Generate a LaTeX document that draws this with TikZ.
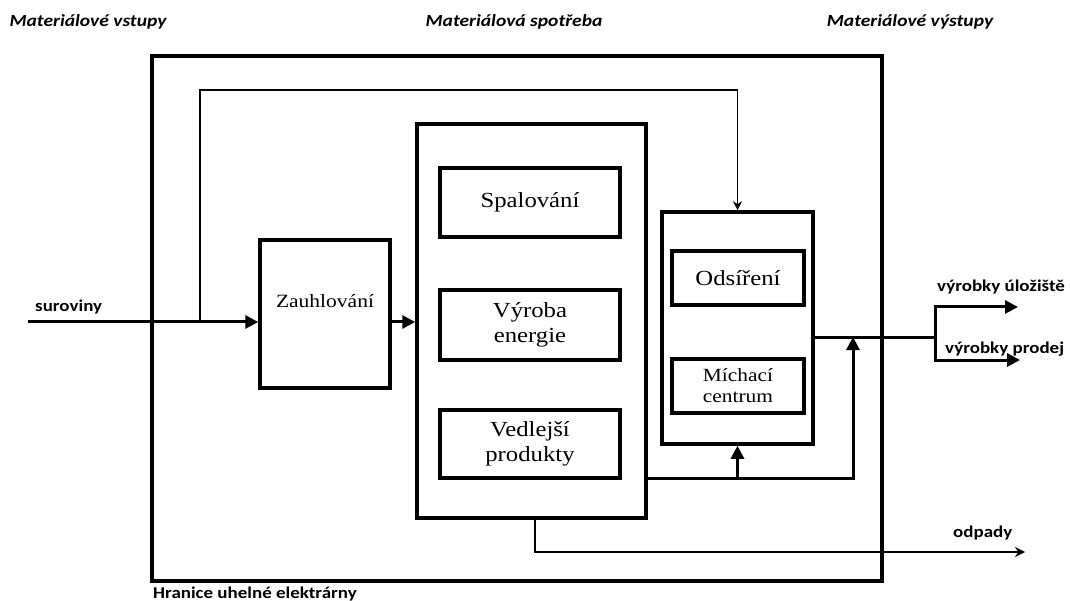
\documentclass[tikz,border=0pt]{standalone}
\usepackage{fontspec}
\setmainfont{Liberation Serif}[FakeStretch=1.15]
\newfontfamily\popisfont{Carlito}[FakeStretch=1.15]
\usetikzlibrary{arrows.meta,calc}

\begin{document}
\begin{tikzpicture}[x=1pt,y=-1pt,
  box/.style={draw,rectangle,line width=3.5pt,inner sep=0pt,align=center},
  blok/.style={font=\fontsize{21.5}{25}\selectfont},
  maly/.style={font=\fontsize{18.6}{21}\selectfont},
  popis/.style={font=\popisfont\fontsize{16.5}{19}\selectfont\bfseries,anchor=base west,inner sep=0pt},
  nadpis/.style={font=\popisfont\fontsize{17}{20}\selectfont\bfseries\itshape,anchor=base,inner sep=0pt},
  tok/.style={line width=3pt,-{Triangle[length=13pt,width=13pt]}},
  tenka/.style={line width=1.5pt,-{Stealth[length=10pt,width=10pt]}}]

\useasboundingbox (0,0) rectangle (1070,601);

% Nadpisy
\node[nadpis] (vstupy) at (88,27) {Materiálové vstupy};
\node[nadpis] (spotr-txt) at (514,27) {Materiálová spotřeba};
\node[nadpis] (vystupy) at (910,27) {Materiálové výstupy};

% Hranice elektrarny
\node[draw,rectangle,line width=4pt,minimum width=730pt,minimum height=525pt,inner sep=0pt] (hranice) at (517,318.5) {};
\node[popis] (hranice-txt) at (153,598) {Hranice uhelné elektrárny};

% Zauhlovani
\node[box,font=\fontsize{18.7}{22}\selectfont,minimum width=130pt,minimum height=148pt,text depth=26pt] (zauhl) at (325,314) {Zauhlování};

% Spotreba
\node[box,minimum width=229pt,minimum height=394pt] (spotreba) at (531.5,321) {};
\node[box,blok,minimum width=180pt,minimum height=69pt] (spal) at (530,202.5) {Spalování};
\node[box,blok,minimum width=180pt,minimum height=70pt] (vyroba) at (530,325) {Výroba\\energie};
\node[box,blok,minimum width=180pt,minimum height=68pt] (vedl) at (530,444) {Vedlejší\\produkty};

% Cisteni
\node[box,minimum width=151pt,minimum height=232pt] (cisteni) at (737.5,328) {};
\node[box,blok,minimum width=132pt,minimum height=54pt] (odsir) at (738,278) {Odsíření};
\node[box,maly,minimum width=132pt,minimum height=54pt] (michaci) at (738,386) {Míchací\\centrum};

% Vstupy
\coordinate (surov) at (28,322);
\coordinate (odboc) at (200,322);
\coordinate (horni) at (737.5,90);
\node[popis] (surov-txt) at (35,312) {suroviny};
\draw[tok] (surov) -- (surov -| zauhl.west);
\draw[tenka,-{Stealth[length=9pt,width=9pt]}] (odboc) |- (horni) -- (cisteni.north);
\draw[tok] (zauhl.east |- surov) -- (spotreba.west |- surov);

% Zpetna vazba
\coordinate (zpet) at (853,478);
\coordinate (rozdel) at (935,337);
\draw[tok] (spotreba.east |- zpet) -| (zpet |- rozdel);
\draw[tok] (cisteni.south |- zpet) -- (cisteni.south);

% Vystupy
\coordinate (uloz) at (1018,307);
\coordinate (prodej) at (1020,360);
\draw[tok] (cisteni.east |- rozdel) -- (rozdel) |- (uloz);
\draw[tok] (rozdel) |- (prodej);
\node[popis] (uloz-txt) at (937,292) {výrobky úložiště};
\node[popis] (prodej-txt) at (945,353) {výrobky prodej};

% Odpady
\coordinate (odpad) at (1025,552);
\draw[tenka] ($(spotreba.south)+(3.5,0)$) |- (odpad);
\node[popis] (odpad-txt) at (953,537) {odpady};

\end{tikzpicture}
\end{document}
